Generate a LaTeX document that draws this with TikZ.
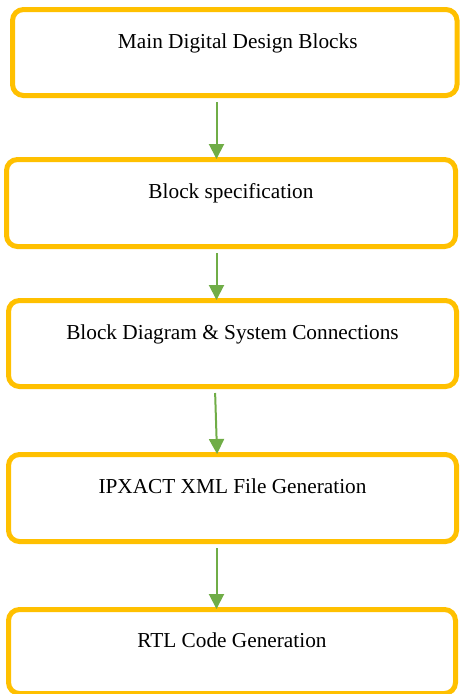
\documentclass[tikz,border=0pt]{standalone}
\usepackage{fontspec}
\setmainfont{Liberation Serif}
\usetikzlibrary{arrows.meta}
\definecolor{boxgold}{HTML}{FFC000}
\definecolor{flowgreen}{HTML}{70AD47}
\begin{document}
\begin{tikzpicture}[x=1pt,y=-1pt,
  stage/.style={draw=boxgold, line width=5pt, rounded corners=11pt, fill=white,
    font=\fontsize{21.3}{25}\selectfont, text height=15pt, text depth=24pt},
  flow/.style={draw=flowgreen, line width=2pt,
    -{Triangle[length=15pt,width=15pt]}, shorten <=4pt, shorten >=-2pt}]
  \useasboundingbox (0,0) rectangle (460,694);

  % process stages
  \node[stage, minimum width=444.5pt, minimum height=86pt] (s1) at (234.75,52.5) {\hspace{6pt}Main Digital Design Blocks};
  \node[stage, minimum width=449pt, minimum height=87pt] (s2) at (231,203) {Block specification};
  \node[stage, minimum width=448pt, minimum height=86pt] (s3) at (232.5,343.5) {Block Diagram \& System Connections};
  \node[stage, minimum width=448pt, minimum height=87pt] (s4) at (232.5,498) {IPXACT XML File Generation};
  \node[stage, minimum width=447pt, minimum height=84pt] (s5) at (232,651.5) {RTL Code Generation};

  % x positions of the connectors
  \coordinate (spine) at (216.5,0);
  \coordinate (slantA) at (215,0);
  \coordinate (slantB) at (217,0);

  % connectors between stages
  \draw[flow] (s1.south -| spine) -- (s2.north -| spine);
  \draw[flow] (s2.south -| spine) -- (s3.north -| spine);
  \draw[flow] (s3.south -| slantA) -- (s4.north -| slantB);
  \draw[flow] (s4.south -| spine) -- (s5.north -| spine);
\end{tikzpicture}
\end{document}
